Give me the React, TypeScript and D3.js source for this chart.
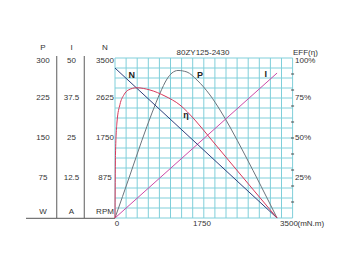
import React from "react";
import * as d3 from "d3";

// Tick labels
const powerTicks = ["300", "225", "150", "75"];
const currentTicks = ["50", "37.5", "25", "12.5"];
const speedTicks = [3500, 2625, 1750, 875];
const effTicks = [100, 75, 50, 25];
const effMinorTicks = [10, 20, 30, 40, 50, 60, 70, 80, 90];
const torqueTicks = [0, 1750, 3500];

// Series (torque in mN.m)
const speedSeries: [number, number][] = [[0, 3280], [3260, 0]];
const currentSeries: [number, number][] = [[0, 0], [3260, 45.3]];
const effSeries: [number, number][] = [
  [0, 0], [10, 40], [40, 60], [100, 71], [180, 77], [268, 80], [436, 81.4], [704, 80],
  [1006, 76.2], [1307, 70.6], [1609, 61.2], [1911, 50], [2313, 35], [3260, 0],
];
const powerSeries: [number, number][] = [
  [0, 0], [302, 80.6], [543, 146], [744, 197], [905, 234], [1046, 260.6],
  [1147, 272], [1267, 276.6], [1448, 273.7], [1649, 258.7], [1911, 230.6],
  [2112, 202.5], [2313, 170.6], [2615, 118], [3260, 0],
];

const W = 360, H = 270;
const gx0 = 115, gx1 = 292.6, gy0 = 58, gy1 = 218;
const FONT = "'Liberation Sans', Arial, sans-serif";
const TXT = "#333";

export default function App() {
  const x = d3.scaleLinear().domain([0, 3500]).range([115, 289]);
  const yN = d3.scaleLinear().domain([0, 3500]).range([gy1, gy0]);
  const yP = d3.scaleLinear().domain([0, 300]).range([gy1, gy0]);
  const yI = d3.scaleLinear().domain([0, 50]).range([gy1, gy0]);
  const yE = d3.scaleLinear().domain([0, 100]).range([gy1, gy0]);

  const mk = (ys: d3.ScaleLinear<number, number>) =>
    d3.line<[number, number]>().x((d) => x(d[0])).y((d) => ys(d[1])).curve(d3.curveMonotoneX);

  const cols = d3.range(17).map((k) => gx0 + (k * (gx1 - gx0)) / 16);
  const rows = d3.range(17).map((k) => gy0 + (k * (gy1 - gy0)) / 16);
  const labY = (v: number) => Math.max(yN(v), 61);

  return (
    <svg width={W} height={H} style={{ position: "fixed", left: 0, top: 0, background: "#fff" }} fontFamily={FONT}>
      <rect x={0} y={0} width={W} height={H} fill="#fff" />
      {/* grid */}
      {cols.map((c, i) => (
        <line key={"c" + i} x1={c} x2={c} y1={gy0} y2={gy1} stroke="#80cfda" strokeWidth={1} />
      ))}
      {rows.map((r, i) => (
        <line key={"r" + i} x1={gx0} x2={gx1} y1={r} y2={r} stroke="#80cfda" strokeWidth={1} />
      ))}
      {/* right minor ticks */}
      {effMinorTicks.map((v) => (
        <line key={"t" + v} x1={gx1 - 1.5} x2={gx1 + 1.5} y1={yE(v)} y2={yE(v)} stroke="#444" strokeWidth={1} />
      ))}
      {/* left table */}
      <line x1={56.7} x2={56.7} y1={56} y2={gy1} stroke="#777" strokeWidth={1.2} />
      <line x1={84.3} x2={84.3} y1={56} y2={gy1} stroke="#777" strokeWidth={1.2} />
      <line x1={26} x2={gx0} y1={gy1 + 0.3} y2={gy1 + 0.3} stroke="#555" strokeWidth={1} />
      <g fontSize={8} fill={TXT} textAnchor="middle">
        <text x={43} y={47.5} dominantBaseline="middle">P</text>
        <text x={71.5} y={47.5} dominantBaseline="middle">I</text>
        <text x={105} y={47.5} dominantBaseline="middle">N</text>
        {speedTicks.map((v, i) => (
          <g key={"l" + v}>
            <text x={43} y={labY(v)} dominantBaseline="middle">{powerTicks[i]}</text>
            <text x={71.5} y={labY(v)} dominantBaseline="middle">{currentTicks[i]}</text>
            <text x={105} y={labY(v)} dominantBaseline="middle">{v}</text>
          </g>
        ))}
        <text x={43} y={211.5} dominantBaseline="middle">W</text>
        <text x={71.5} y={211.5} dominantBaseline="middle">A</text>
        <text x={105} y={211.5} dominantBaseline="middle">RPM</text>
        <text x={203} y={52.5} dominantBaseline="middle">80ZY125-2430</text>
        {torqueTicks.map((v) => (
          <text key={"x" + v} x={x(v) + (v === 0 ? 2 : 0)} y={223.5} dominantBaseline="middle">{v}</text>
        ))}
      </g>
      <g fontSize={8} fill={TXT}>
        <text x={293} y={52.5} dominantBaseline="middle">EFF(η)</text>
        {effTicks.map((v) => (
          <text key={"e" + v} x={295} y={Math.max(yE(v), 61)} dominantBaseline="middle">{v}%</text>
        ))}
        <text x={x(3500) + 8.5} y={223.5} dominantBaseline="middle">(mN.m)</text>
      </g>
      {/* curves */}
      <path d={mk(yP)(powerSeries) ?? ""} fill="none" stroke="#6c747c" strokeWidth={1} />
      <path d={mk(yI)(currentSeries) ?? ""} fill="none" stroke="#cc4aa8" strokeWidth={1} />
      <path d={mk(yN)(speedSeries) ?? ""} fill="none" stroke="#2e3f7c" strokeWidth={1} />
      <path d={mk(yE)(effSeries) ?? ""} fill="none" stroke="#d8385a" strokeWidth={1} />
      {/* curve labels */}
      <g fontSize={9} fill="#222" textAnchor="middle" fontWeight="bold">
        <text x={131.7} y={76} dominantBaseline="middle">N</text>
        <text x={200} y={76} dominantBaseline="middle">P</text>
        <text x={265.7} y={75} dominantBaseline="middle">I</text>
        <text x={186} y={116} dominantBaseline="middle">η</text>
      </g>
    </svg>
  );
}
